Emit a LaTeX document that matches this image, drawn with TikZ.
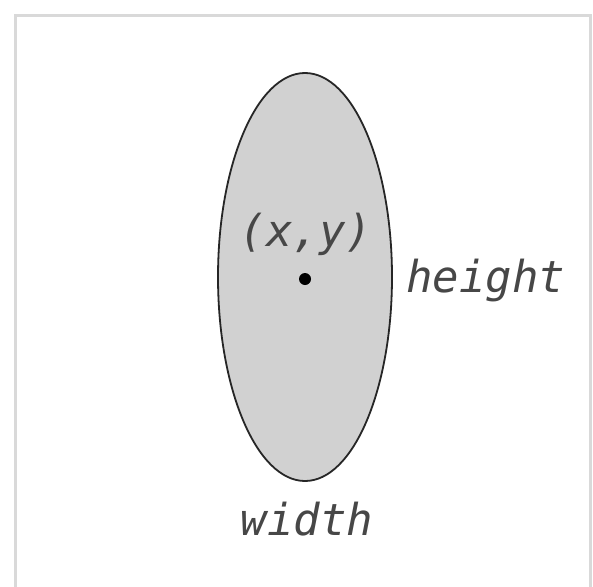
\documentclass[tikz,border=0pt]{standalone}
\usetikzlibrary{shapes.geometric}
\usepackage{fontspec}
\setmonofont{DejaVu Sans Mono}
\begin{document}
\begin{tikzpicture}[x=1pt,y=-1pt,
  lbl/.style={font=\fontsize{44}{50}\selectfont\ttfamily\itshape, text=black!72, inner sep=0pt}]
\useasboundingbox (0,0) rectangle (593,586);
\clip (0,0) rectangle (593,586);
\fill[white] (0,0) rectangle (593,586);
\draw[line width=3pt, color=black!15] (15,600) -- (15,16) -- (590,16) -- (590,600);
\node[draw=black!85, line width=1.8pt, fill=black!18, ellipse, minimum width=174pt, minimum height=408pt, inner sep=0pt] (ell) at (305,277) {};
\fill[black] (305,279) circle (6pt);
\coordinate (c) at (305,279);
\node[lbl] (xy) at (306,234) {(x,y)};
\node[lbl, anchor=west] (h) at (406,281) {height};
\node[lbl] (w) at (307,519) {width};
\end{tikzpicture}
\end{document}
